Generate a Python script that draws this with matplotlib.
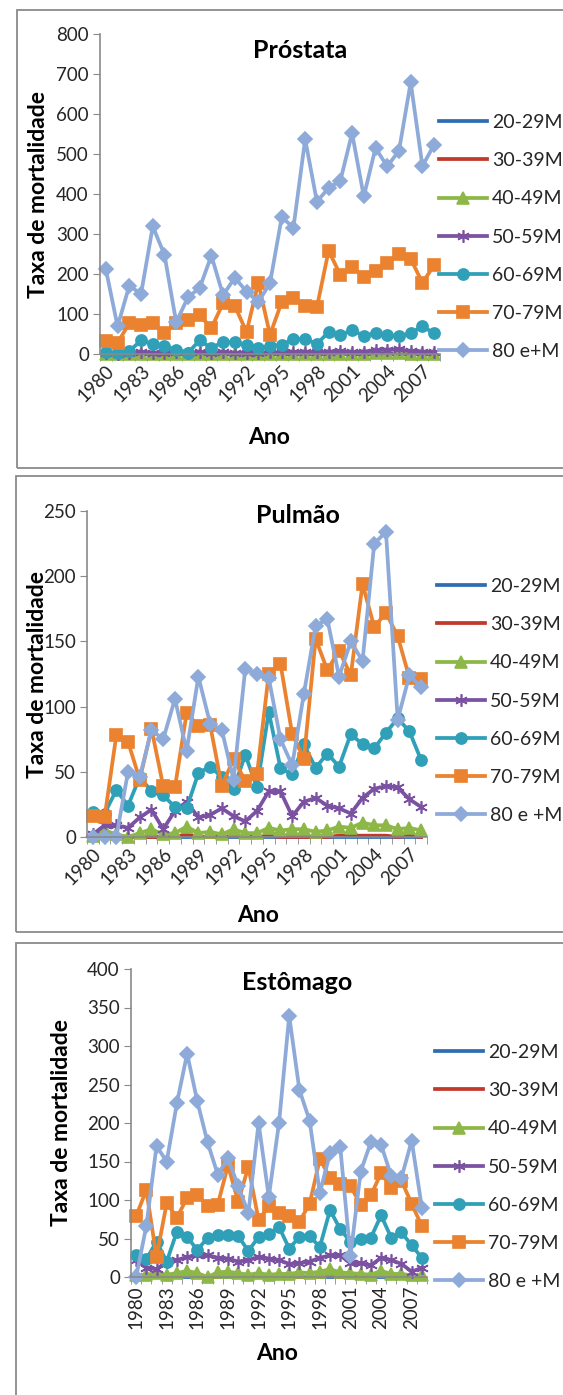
import matplotlib
matplotlib.use('Agg')
import matplotlib.pyplot as plt
from matplotlib.patches import Rectangle

plt.rcParams['font.family'] = ['Lato', 'DejaVu Sans']

W, H = 563, 1395

years = [1980, 1981, 1982, 1983, 1984, 1985, 1986, 1987, 1988, 1989,
         1990, 1991, 1992, 1993, 1994, 1995, 1996, 1997, 1998, 1999,
         2000, 2001, 2002, 2003, 2004, 2005, 2006, 2007, 2008]

groups_p = ['20-29M', '30-39M', '40-49M', '50-59M', '60-69M', '70-79M', '80 e+M']
groups = ['20-29M', '30-39M', '40-49M', '50-59M', '60-69M', '70-79M', '80 e +M']

# Próstata
p_2029 = [0, 0, 0, 0, 0, 0, 0, 0, 0, 0, 0, 0, 0, 0, 0, 0, 0, 0, 0, 0, 0, 0, 0, 0, 0, 0, 0, 0, 0]
p_3039 = [0, 0, 0, 0, 0, 0, 0, 0, 0, 0, 0, 0, 0, 0, 0, 0, 0, 0, 0, 0, 0, 0, 0, 0, 0, 0, 0, 0, 0]
p_4049 = [0, 0, 1, 0, 1, 0, 0, 1, 0, 1, 0, 1, 0, 1, 0, 1, 1, 0, 1, 1, 1, 1, 1, 2, 2, 3, 1, 1, 1]
p_5059 = [2, 1, 2, 6, 3, 2, 4, 3, 5, 3, 4, 3, 3, 3, 4, 4, 5, 6, 4, 6, 7, 5, 6, 9, 11, 12, 7, 6, 5]
p_6069 = [4, 2, 7, 34, 26, 19, 11, 3, 34, 15, 30, 29, 23, 15, 19, 23, 37, 38, 25, 55, 48, 59, 46, 52, 48, 44, 52, 69, 52]
p_7079 = [32, 28, 77, 73, 78, 52, 78, 85, 97, 65, 127, 120, 55, 178, 48, 130, 140, 120, 117, 258, 198, 218, 193, 208, 228, 250, 238, 178, 222]
p_80 = [212, 69, 171, 150, 319, 248, 79, 142, 165, 246, 147, 191, 156, 130, 177, 342, 316, 537, 381, 415, 433, 552, 394, 515, 469, 508, 679, 470, 523]

# Pulmão
u_2029 = [0, 0, 0, 0, 0, 0, 0, 0, 0, 0, 0, 0, 0, 0, 0, 0, 0, 0, 0, 0, 0, 0, 0, 0, 0, 0, 0, 0, 0]
u_3039 = [0, 0, 0, 0, 0, 0, 0, 0, 2, 0, 0, 0, 1, 0, 0, 1, 0, 0, 0, 0, 0, 1, 1, 1, 1, 1, 0, 1, 0]
u_4049 = [1, 5, 2, 0, 3, 6, 2, 3, 8, 3, 4, 2, 6, 3, 3, 7, 5, 6, 6, 4, 5, 8, 7, 11, 9, 9, 6, 7, 5]
u_5059 = [2, 9, 9, 7, 15, 21, 6, 20, 27, 15, 17, 22, 16, 12, 20, 35, 35, 16, 27, 30, 24, 22, 18, 30, 37, 39, 38, 29, 23]
u_6069 = [19, 18, 36, 24, 46, 35, 32, 23, 22, 49, 54, 46, 37, 63, 38, 96, 53, 48, 71, 53, 64, 54, 79, 71, 68, 80, 91, 81, 59]
u_7079 = [16, 15, 78, 73, 44, 83, 39, 38, 95, 85, 86, 39, 60, 43, 48, 125, 133, 79, 60, 152, 128, 143, 124, 194, 161, 172, 154, 122, 121]
u_80 = [0, 0, 0, 50, 46, 82, 75, 106, 66, 123, 87, 82, 44, 129, 125, 122, 75, 55, 110, 162, 167, 123, 150, 135, 225, 234, 90, 124, 115]

# Estômago
e_2029 = [0, 0, 0, 0, 0, 0, 0, 0, 0, 0, 0, 0, 0, 0, 0, 0, 0, 0, 0, 0, 0, 0, 0, 0, 0, 0, 0, 0, 0]
e_3039 = [0, 0, 0, 0, 0, 2, 0, 0, 0, 3, 0, 0, 0, 0, 0, 0, 0, 0, 0, 3, 0, 0, 0, 0, 2, 0, 0, 3, 0]
e_4049 = [2, 3, 5, 3, 5, 8, 5, 0, 6, 7, 5, 3, 5, 3, 4, 4, 6, 5, 7, 10, 6, 5, 4, 3, 8, 4, 4, 2, 3]
e_5059 = [22, 12, 10, 20, 22, 26, 28, 28, 25, 24, 20, 22, 26, 24, 22, 17, 18, 20, 25, 28, 28, 18, 18, 15, 25, 22, 17, 7, 12]
e_6069 = [29, 23, 46, 20, 59, 52, 35, 51, 55, 55, 53, 34, 52, 56, 65, 37, 52, 53, 39, 87, 62, 46, 50, 51, 80, 51, 58, 41, 25]
e_7079 = [79, 113, 26, 96, 77, 103, 107, 92, 94, 145, 98, 143, 74, 92, 83, 79, 72, 95, 153, 129, 121, 118, 94, 106, 135, 116, 125, 95, 66]
e_80 = [0, 66, 170, 150, 226, 290, 228, 175, 133, 154, 118, 83, 200, 104, 200, 339, 243, 203, 109, 161, 169, 27, 137, 175, 172, 131, 129, 177, 90]

colors = ['#2f6db3', '#c0392b', '#8db848', '#7b52a1', '#2fa0b8', '#ea822f', '#8eaad9']
markers = ['None', 'None', '^', (6, 2, 0), 'o', 's', 'D']
msizes = [0, 0, 8, 9, 8, 8, 6.8]

GRAY = '#8a8a8a'
TXT = '#262626'
FS = 13.5
LFS = 14


def px_axes(fig, left, top, right, bottom):
    return fig.add_axes([left / W, 1 - bottom / H, (right - left) / W, (bottom - top) / H])


def fig_text(fig, x, y, s, **kw):
    fig.text(x / W, 1 - y / H, s, ha='center', va='center', color='black', **kw)


def panel(fig, series, names, title, ymax, ystep, box, axbox, title_xy, ylab_xy, xlab_xy, leg_xy, rot):
    bl, bt, br, bb = box
    fig.patches.append(Rectangle((bl / W, 1 - bb / H), (br - bl) / W, (bb - bt) / H,
                                 transform=fig.transFigure, fill=False,
                                 edgecolor=GRAY, linewidth=1.3))
    ax = px_axes(fig, *axbox)
    x = list(range(len(years)))
    for vals, name, c, m, ms in zip(series, names, colors, markers, msizes):
        ax.plot(x, vals, color=c, lw=2.7, marker=m, ms=ms, mfc=c, mec=c, mew=1.2,
                label=name, clip_on=False, solid_joinstyle='round')

    ax.set_xlim(-0.5, len(years) - 0.5)
    ax.set_ylim(0, ymax)
    ax.set_yticks(range(0, ymax + 1, ystep))
    ax.set_xticks(x[::3])
    ax.set_xticklabels([str(y) for y in years[::3]])
    ax.set_xticks([i - 0.5 for i in range(len(years) + 1)], minor=True)

    for s in ['top', 'right']:
        ax.spines[s].set_visible(False)
    for s in ['left', 'bottom']:
        ax.spines[s].set_color(GRAY)
        ax.spines[s].set_linewidth(1.2)

    ax.tick_params(axis='y', direction='out', length=5, color=GRAY, labelsize=FS, labelcolor=TXT, pad=3)
    ax.tick_params(axis='x', which='major', length=0, labelsize=FS, labelcolor=TXT, pad=6)
    ax.tick_params(axis='x', which='minor', direction='out', length=5, color=GRAY)

    if rot == 45:
        plt.setp(ax.get_xticklabels(), rotation=45, ha='right', va='top', rotation_mode='anchor')
    else:
        plt.setp(ax.get_xticklabels(), rotation=90, ha='center', va='top')

    fig_text(fig, *title_xy, title, fontsize=18, fontweight='bold')
    fig_text(fig, *ylab_xy, 'Taxa de mortalidade', fontsize=16.5, fontweight='bold', rotation=90)
    fig_text(fig, *xlab_xy, 'Ano', fontsize=16.5, fontweight='bold')

    ax.legend(loc='upper left', bbox_to_anchor=(leg_xy[0] / W, 1 - leg_xy[1] / H),
              bbox_transform=fig.transFigure, frameon=False, fontsize=LFS,
              handlelength=2.45, handletextpad=0.27, labelspacing=1.09,
              borderpad=0, borderaxespad=0, numpoints=1, labelcolor=TXT)
    return ax


fig = plt.figure(figsize=(W / 100, H / 100), dpi=100)

panel(fig, [p_2029, p_3039, p_4049, p_5059, p_6069, p_7079, p_80], groups_p, 'Próstata',
      800, 100, (17, 10, 620, 468), (100, 34, 440, 354),
      (300, 50), (39, 195), (269, 437), (439, 114), 45)

panel(fig, [u_2029, u_3039, u_4049, u_5059, u_6069, u_7079, u_80], groups, 'Pulmão',
      250, 50, (16, 476, 620, 932), (87, 511, 427, 837),
      (298, 515), (38, 675), (258, 916), (437, 578), 45)

panel(fig, [e_2029, e_3039, e_4049, e_5059, e_6069, e_7079, e_80], groups, 'Estômago',
      400, 50, (16, 943, 620, 1400), (131, 969, 427, 1277),
      (297, 982), (62, 1123), (277, 1353), (435, 1044), 90)

fig.savefig('out.png', dpi=100)
